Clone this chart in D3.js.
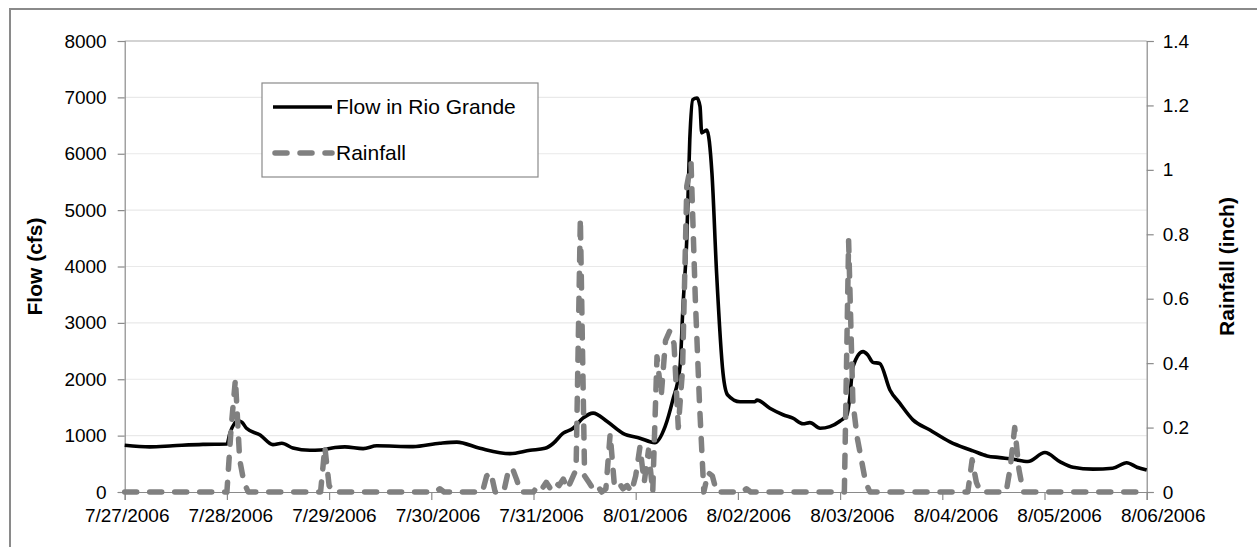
<!DOCTYPE html>
<html>
<head>
<meta charset="utf-8">
<script src="https://cdn.jsdelivr.net/npm/d3@7/dist/d3.min.js"></script>
<style>
  html, body { margin: 0; padding: 0; background: #fff; }
  svg { display: block; font-family: "Liberation Sans", Arial, sans-serif; }
</style>
</head>
<body>
<svg id="chart" width="1257" height="547"></svg>
<script>
// ---- data ----
const dateLabels = ["7/27/2006","7/28/2006","7/29/2006","7/30/2006","7/31/2006","8/01/2006","8/02/2006","8/03/2006","8/04/2006","8/05/2006","8/06/2006"];
const flowTicks = [0,1000,2000,3000,4000,5000,6000,7000,8000];
const rainTicks = [0,0.2,0.4,0.6,0.8,1,1.2,1.4];

// hours since 7/27/2006 00:00
const flowHours = [0,5.9,11.3,18.4,24,24.7,26.6,27.5,28.6,31.8,34.8,36.9,39.5,43.5,45.9,49.4,
  51.7,56,59.2,67.7,74,78,83.4,90.5,95.2,98.7,
  100.6,102.9,105.3,107.6,110,113.3,117,121,124.5,126.9,128.7,130.4,131.1,132,132.7,133.4,134.4,135.1,135.5,136.7,137.9,139,140.5,141.6,144.5,148,
  148.5,151.5,154.6,156.9,159.3,160.9,163.3,165.6,168,169.6,170.3,171,173.4,174.5,175.7,177.3,179.7,182,185.1,189.1,193.8,
  197.3,199.2,202.5,205.5,208.6,212.1,216.1,219.6,222.7,227.4,232,235.3,237.7,240];
const flowValues = [830,800,820,845,852,1040,1265,1240,1130,1010,840,865,780,740,745,790,
  800,770,820,805,865,885,775,680,740,775,
  860,1040,1130,1310,1400,1250,1040,955,875,1160,1630,2220,3290,4500,6250,6960,6990,6840,6370,6420,5660,3880,2110,1720,1600,1600,
  1630,1485,1370,1310,1210,1230,1130,1160,1260,1370,1690,2220,2490,2430,2300,2280,1810,1575,1280,1100,890,
  780,730,640,610,580,540,700,540,440,405,420,520,440,390];

const rainHours = [0,24,25,26,27,28,29,46,47,48,49,73,74,75,84,85,86,87,89,90,91,92,93,
  96,97,98,99,100,101,102,103,104,105,106,107,108,109,110,111,112,113,114,115,116,117,118,119,
  120,121,122,123,124,125,126,127,128,129,130,131,132,133,134,135,136,137,138,139,145,146,147,
  169,170,171,172,173,174,175,198,199,200,201,207,208,209,210,211,240];
const rainValues = [0,0,0.2,0.35,0.1,0.03,0,0,0.14,0.02,0,0,0.01,0,0,0.05,0.06,0,0,0.06,0.075,0.04,0,
  0,0.02,0.01,0.03,0.01,0.03,0.02,0.04,0.01,0.04,0.07,0.85,0.05,0.03,0.01,0.02,0,0.01,0.18,0.02,0.03,0.01,0.02,0,
  0.05,0.14,0.03,0.13,0,0.42,0.3,0.47,0.5,0.46,0.2,0.38,0.95,1.02,0.6,0.27,0,0.06,0.05,0,0,0.01,0,
  0,0.78,0.28,0.17,0.1,0.03,0,0,0.1,0.03,0,0,0.08,0.2,0.07,0,0];

// ---- layout ----
const svg = d3.select("#chart");
const L = 124.7, R = 1146.7, T = 41, B = 492;
const start = new Date(2006, 6, 27);
const tickDates = dateLabels.map((_, i) => d3.timeDay.offset(start, i));
const x = d3.scaleTime().domain([tickDates[0], tickDates[tickDates.length - 1]]).range([L, R]);
const yF = d3.scaleLinear().domain([0, 8000]).range([B, T]);
const yR = d3.scaleLinear().domain([0, 1.4]).range([B, T]);
const hr = h => d3.timeMinute.offset(start, Math.round(h * 60));

// outer border
svg.append("rect").attr("x", 10).attr("y", 9).attr("width", 1260).attr("height", 560)
  .attr("fill", "none").attr("stroke", "#8a8a8a").attr("stroke-width", 2);

// gridlines
svg.append("g").selectAll("line").data(flowTicks.slice(1)).join("line")
  .attr("x1", L).attr("x2", R).attr("y1", d => yF(d)).attr("y2", d => yF(d))
  .attr("stroke", d => d === 8000 ? "#a8a8a8" : "#e9e9e9").attr("stroke-width", 1.2);

// axes
const axStyle = g => {
  g.select(".domain").attr("stroke", "#8a8a8a").attr("stroke-width", 1.2);
  g.selectAll(".tick line").attr("stroke", "#8a8a8a").attr("stroke-width", 1.2);
  g.selectAll("text").attr("fill", "#000").style("font-size", "19px")
   .style("font-family", '"Liberation Sans", Arial, sans-serif');
};
svg.append("g").attr("transform", `translate(${L},0)`)
  .call(d3.axisLeft(yF).tickValues(flowTicks).tickFormat(d => String(d)).tickSizeOuter(0).tickSize(7).tickPadding(11))
  .call(axStyle);
svg.append("g").attr("transform", `translate(${R},0)`)
  .call(d3.axisRight(yR).tickValues(rainTicks).tickFormat(d => String(+d.toFixed(1))).tickSizeOuter(0).tickSize(7).tickPadding(9))
  .call(axStyle);
const xg = svg.append("g").attr("transform", `translate(0,${B})`)
  .call(d3.axisBottom(x).tickValues(tickDates).tickFormat((d, i) => dateLabels[i]).tickSizeOuter(0).tickSize(8).tickPadding(9))
  .call(axStyle);
xg.selectAll(".tick text").attr("dx", (d, i) => 2 + i * 1.4);

// axis titles
svg.append("text").attr("transform", `translate(42,${(T + B) / 2}) rotate(-90)`)
  .attr("text-anchor", "middle").style("font-size", "21px").style("font-weight", "bold").text("Flow (cfs)");
svg.append("text").attr("transform", `translate(1234,${(T + B) / 2}) rotate(-90)`)
  .attr("text-anchor", "middle").style("font-size", "21px").style("font-weight", "bold").text("Rainfall (inch)");

// series
const flowData = flowHours.map((h, i) => ({ t: hr(h), v: flowValues[i] }));
const rainData = rainHours.map((h, i) => ({ t: hr(h), v: rainValues[i] }));

svg.append("path").datum(flowData)
  .attr("fill", "none").attr("stroke", "#000").attr("stroke-width", 3.6).attr("stroke-linejoin", "round")
  .attr("d", d3.line().x(d => x(d.t)).y(d => yF(d.v)).curve(d3.curveMonotoneX));

svg.append("path").datum(rainData)
  .attr("fill", "none").attr("stroke", "#808080").attr("stroke-width", 5.5)
  .attr("stroke-linecap", "round").attr("stroke-linejoin", "round").attr("stroke-dasharray", "12,13")
  .attr("d", d3.line().x(d => x(d.t)).y(d => yR(d.v)));

// legend
const lg = svg.append("g");
lg.append("rect").attr("x", 262).attr("y", 83).attr("width", 276).attr("height", 94)
  .attr("fill", "#fff").attr("stroke", "#8a8a8a").attr("stroke-width", 1.2);
lg.append("line").attr("x1", 273).attr("x2", 332).attr("y1", 107).attr("y2", 107)
  .attr("stroke", "#000").attr("stroke-width", 3.6);
lg.append("line").attr("x1", 275).attr("x2", 332).attr("y1", 153).attr("y2", 153)
  .attr("stroke", "#808080").attr("stroke-width", 5.5).attr("stroke-linecap", "round").attr("stroke-dasharray", "12,13");
lg.append("text").attr("x", 336).attr("y", 114).style("font-size", "21px").text("Flow in Rio Grande");
lg.append("text").attr("x", 336).attr("y", 160).style("font-size", "21px").text("Rainfall");
</script>
</body>
</html>
